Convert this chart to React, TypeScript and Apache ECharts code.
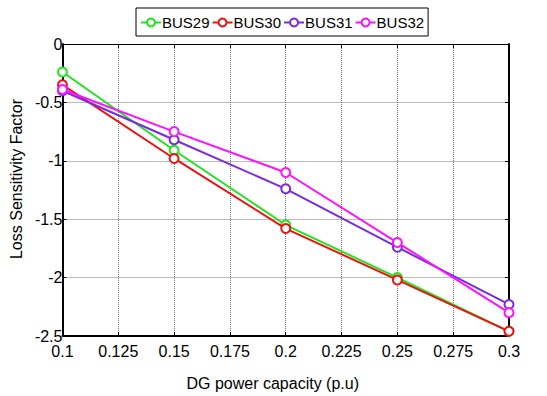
import React, { useEffect, useRef } from "react";
import * as echarts from "echarts";

const xValues = [0.1, 0.15, 0.2, 0.25, 0.3];
const bus29 = [-0.24, -0.91, -1.55, -2.0, -2.46];
const bus30 = [-0.35, -0.98, -1.58, -2.02, -2.46];
const bus31 = [-0.4, -0.82, -1.24, -1.74, -2.23];
const bus32 = [-0.39, -0.75, -1.1, -1.7, -2.3];
const seriesNames = ["BUS29", "BUS30", "BUS31", "BUS32"];
const seriesColors = ["#1ee61e", "#f01010", "#7a2be0", "#ff10ff"];

const FONT = "'Liberation Sans Narrow', 'Liberation Sans', Arial, sans-serif";

export default function App() {
  const ref = useRef<HTMLDivElement>(null);
  useEffect(() => {
    if (!ref.current) return;
    const chart = echarts.init(ref.current, undefined, { renderer: "svg" });
    const datas = [bus29, bus30, bus31, bus32];
    const fmt = (v: number) => String(parseFloat(v.toFixed(3)));
    chart.setOption({
      animation: false,
      backgroundColor: "#fff",
      legend: {
        top: 8,
        left: 136,
        padding: [7, 4, 6, 4],
        itemGap: 2,
        itemWidth: 20,
        itemHeight: 10,
        borderColor: "#000",
        borderWidth: 1,
        borderRadius: 0,
        textStyle: { fontFamily: FONT, fontSize: 15, color: "#000", padding: [0, 0, 0, -4] },
        data: seriesNames,
      },
      grid: { left: 61, right: 38, top: 44, bottom: 53 },
      xAxis: [
        {
          type: "value",
          min: 0.1,
          max: 0.3,
          interval: 0.025,
          name: "DG power capacity (p.u)",
          nameLocation: "middle",
          nameGap: 39,
          nameTextStyle: { fontFamily: "'Liberation Sans', Arial, sans-serif", fontSize: 16, color: "#000", padding: [0, 26, 0, 0] },
          axisLine: { show: true, onZero: false, lineStyle: { color: "#000", width: 2 } },
          axisTick: { show: true, inside: true, length: 4, lineStyle: { color: "#000" } },
          axisLabel: { fontFamily: FONT, fontSize: 16, color: "#000", margin: 7, formatter: fmt },
          splitLine: { show: true, lineStyle: { color: "#777", type: [1, 1], width: 1 } },
        },
        {
          type: "value",
          position: "top",
          min: 0.1,
          max: 0.3,
          interval: 0.025,
          axisLine: { show: true, onZero: false, lineStyle: { color: "#000", width: 1 } },
          axisTick: { show: true, inside: true, length: 4, lineStyle: { color: "#000" } },
          axisLabel: { show: false },
          splitLine: { show: false },
        },
      ],
      yAxis: [
        {
          type: "value",
          min: -2.5,
          max: 0,
          interval: 0.5,
          name: "Loss Sensitivity Factor",
          nameLocation: "middle",
          nameGap: 38,
          nameRotate: 90,
          nameTextStyle: { fontFamily: FONT, fontSize: 16, color: "#000", padding: [0, 0, 0, 22] },
          axisLine: { show: true, onZero: false, lineStyle: { color: "#000", width: 2 } },
          axisTick: { show: true, inside: true, length: 4, lineStyle: { color: "#000" } },
          axisLabel: { fontFamily: FONT, fontSize: 16, color: "#000", margin: 0, padding: [0, 0, 4, 0], formatter: fmt },
          splitLine: { show: true, lineStyle: { color: "#777", type: [1, 1], width: 1 } },
        },
        {
          type: "value",
          position: "right",
          min: -2.5,
          max: 0,
          interval: 0.5,
          axisLine: { show: true, onZero: false, lineStyle: { color: "#000", width: 2 } },
          axisTick: { show: true, inside: true, length: 4, lineStyle: { color: "#000" } },
          axisLabel: { show: false },
          splitLine: { show: false },
        },
      ],
      series: seriesNames.map((n, i) => ({
        name: n,
        type: "line",
        data: xValues.map((x, j) => [x, datas[i][j]]),
        color: seriesColors[i],
        symbol: "emptyCircle",
        symbolSize: 9,
        lineStyle: { width: 2, color: seriesColors[i] },
        itemStyle: { color: seriesColors[i], borderWidth: 2, borderColor: seriesColors[i] },
        z: 3 + i,
      })),
    });
    return () => chart.dispose();
  }, []);
  return <div ref={ref} style={{ width: 547, height: 396, position: "absolute", left: 0, top: 0 }} />;
}
